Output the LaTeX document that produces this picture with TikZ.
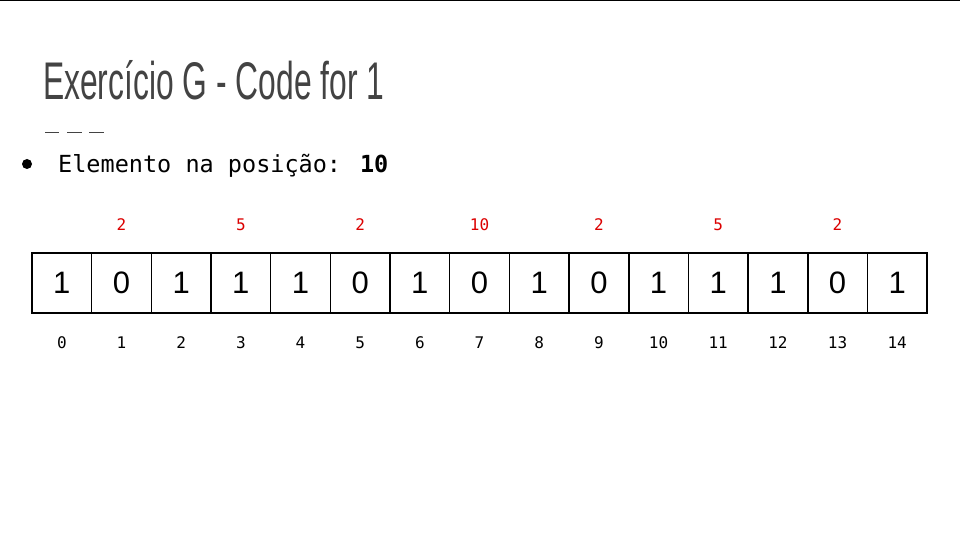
\documentclass[tikz,border=0pt]{standalone}
\usepackage{fontspec}
\setmainfont{Liberation Sans}
\newfontfamily\titlefont[FakeStretch=0.6]{Liberation Sans}
\newfontfamily\monofont{DejaVu Sans Mono}
\definecolor{titlegray}{RGB}{67,67,67}
\definecolor{idxred}{RGB}{220,0,0}
\tikzset{
  cell/.style={draw=black, line width=1.6pt, minimum width=59.67pt, minimum height=60pt, inner sep=0pt, font=\fontsize{31pt}{31pt}\selectfont},
  toplab/.style={inner sep=0pt, text=idxred, font=\monofont\fontsize{16pt}{16pt}\selectfont},
  botlab/.style={inner sep=0pt, text=black, font=\monofont\fontsize{16pt}{16pt}\selectfont},
}
\begin{document}
\begin{tikzpicture}[x=1pt,y=-1pt]
\useasboundingbox[fill=white] (0,0) rectangle (960,540);
\draw[line width=2pt] (0,0.5) -- (960,0.5);
\node[anchor=base west, inner sep=0pt, text=titlegray, font=\titlefont\fontsize{53pt}{53pt}\selectfont] (title) at (43,100) {Exercício G - Code for 1};
\coordinate (d1a) at (45,132.5); \coordinate (d1b) at (59,132.5);
\coordinate (d2a) at (67,132.5); \coordinate (d2b) at (82,132.5);
\coordinate (d3a) at (89,132.5); \coordinate (d3b) at (104,132.5);
\draw[titlegray, line width=1.5pt] (d1a) -- (d1b) (d2a) -- (d2b) (d3a) -- (d3b);
\fill (27,164) circle (5);
\node[anchor=base west, inner sep=0pt, font=\monofont\fontsize{23.5pt}{23.5pt}\selectfont] (elem) at (58,172) {Elemento na posição: \textbf{10}};
\foreach \v [count=\i from 0] in {1,0,1,1,1,0,1,0,1,0,1,1,1,0,1} {
  \node[cell] (c\i) at ({32+59.67*(\i+0.5)},283) {\v};
  \node[botlab] (b\i) at ({32+59.67*(\i+0.5)},343) {\i};
}
\foreach \i/\v in {1/2,3/5,5/2,7/10,9/2,11/5,13/2} {
  \node[toplab] (t\i) at ({32+59.67*(\i+0.5)},225) {\v};
}
\end{tikzpicture}
\end{document}
